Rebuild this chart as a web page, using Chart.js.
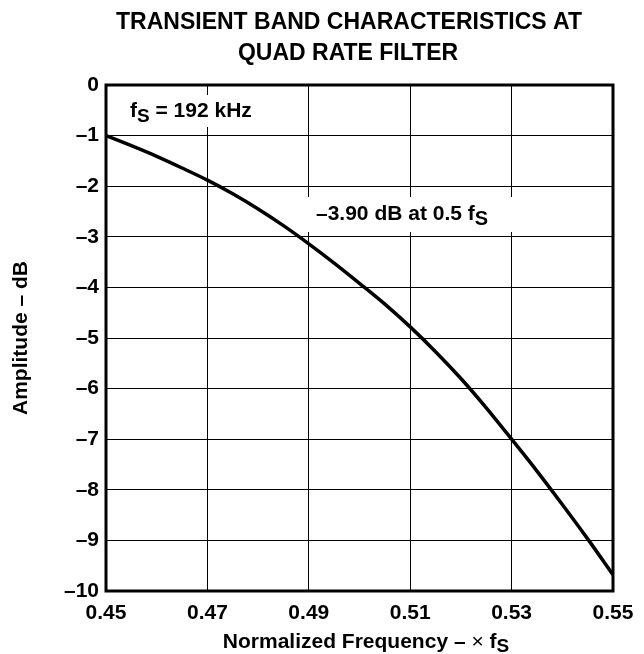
<!DOCTYPE html>
<html>
<head>
<meta charset="utf-8">
<script src="https://cdn.jsdelivr.net/npm/chart.js@4.4.1/dist/chart.umd.min.js"></script>
<style>
  html, body { margin: 0; padding: 0; background: #fff; }
</style>
</head>
<body>
<canvas id="filterChart" width="644" height="654"></canvas>
<script>
// normalized frequency (x fS) and amplitude in dB
const frequency = [0.45, 0.455, 0.46, 0.465, 0.47, 0.475, 0.48, 0.485, 0.49, 0.495,
                   0.50, 0.505, 0.51, 0.515, 0.52, 0.525, 0.53, 0.535, 0.54, 0.545, 0.55];
const amplitude = [-1.00, -1.20, -1.41, -1.64, -1.88, -2.15, -2.45, -2.78, -3.14, -3.52,
                   -3.92, -4.33, -4.78, -5.27, -5.80, -6.38, -7.00, -7.63, -8.29, -8.97, -9.68];
const xTickValues = [0.45, 0.47, 0.49, 0.51, 0.53, 0.55];

const FONT = '"Liberation Sans", Arial, Helvetica, sans-serif';

// text with a lowered "S" subscript
function drawSubText(ctx, parts, x, y, align) {
    let total = 0;
    parts.forEach(function(p) {
        ctx.font = p.font;
        total += ctx.measureText(p.text).width;
    });
    let cx = align === 'center' ? x - total / 2 : x;
    parts.forEach(function(p) {
        ctx.font = p.font;
        ctx.fillText(p.text, cx, y + (p.dy || 0));
        cx += ctx.measureText(p.text).width;
    });
}

const overlay = {
    id: 'overlay',
    beforeDatasetsDraw(chart) {
        // white boxes behind the two notes
        const ctx = chart.ctx;
        ctx.save();
        ctx.fillStyle = '#fff';
        ctx.fillRect(125, 95, 135, 32);
        ctx.fillRect(303, 197, 215, 35);
        ctx.restore();
    },
    afterDraw(chart) {
        const ctx = chart.ctx;
        const a = chart.chartArea;
        ctx.save();
        // frame
        ctx.strokeStyle = '#000';
        ctx.lineWidth = 3;
        ctx.strokeRect(a.left, a.top, a.right - a.left, a.bottom - a.top);

        ctx.fillStyle = '#000';
        ctx.textBaseline = 'alphabetic';

        // title
        ctx.textAlign = 'center';
        ctx.font = 'bold 23px ' + FONT;
        ctx.fillText('TRANSIENT BAND CHARACTERISTICS AT', 349, 29);
        ctx.fillText('QUAD RATE FILTER', 348, 60);

        ctx.textAlign = 'left';
        drawSubText(ctx, [
            { text: 'f', font: 'bold 21px ' + FONT },
            { text: 'S', font: 'bold 19px ' + FONT, dy: 5 },
            { text: ' = 192 kHz', font: 'bold 21px ' + FONT }
        ], 130, 117, 'left');
        drawSubText(ctx, [
            { text: '\u20133.90 dB at 0.5 f', font: 'bold 21px ' + FONT },
            { text: 'S', font: 'bold 20px ' + FONT, dy: 5 }
        ], 316, 220, 'left');

        // x axis title
        drawSubText(ctx, [
            { text: 'Normalized Frequency \u2013 ', font: 'bold 21px ' + FONT },
            { text: '\u00d7', font: '21px ' + FONT },
            { text: ' f', font: 'bold 21px ' + FONT },
            { text: 'S', font: 'bold 19px ' + FONT, dy: 4 }
        ], 366, 648, 'center');

        // y axis title
        ctx.translate(27, 338);
        ctx.rotate(-Math.PI / 2);
        ctx.textAlign = 'center';
        ctx.font = 'bold 21px ' + FONT;
        ctx.fillText('Amplitude \u2013 dB', 0, 0);
        ctx.restore();
    }
};

const ctx = document.getElementById('filterChart').getContext('2d');

const myChart = new Chart(ctx, {
    type: 'line',
    data: {
        datasets: [{
            data: frequency.map(function(f, i) { return { x: f, y: amplitude[i] }; }),
            borderColor: '#000',
            borderWidth: 3.5,
            pointRadius: 0,
            fill: false,
            cubicInterpolationMode: 'monotone'
        }]
    },
    options: {
        responsive: false,
        animation: false,
        devicePixelRatio: 1,
        layout: {
            padding: { top: 85, right: 31, left: 0, bottom: 0 }
        },
        plugins: {
            legend: { display: false },
            title: { display: false },
            tooltip: { enabled: false }
        },
        scales: {
            x: {
                type: 'linear',
                min: 0.45,
                max: 0.55,
                afterBuildTicks: function(scale) {
                    scale.ticks = xTickValues.map(function(v) { return { value: v }; });
                },
                afterFit: function(scale) { scale.height = 63; },
                border: { display: false },
                grid: { color: '#000', lineWidth: 1, drawTicks: false },
                ticks: {
                    color: '#000',
                    padding: 10,
                    maxRotation: 0,
                    font: { family: FONT, size: 21, weight: 'bold' },
                    callback: function(v) { return v.toFixed(2); }
                }
            },
            y: {
                min: -10,
                max: 0,
                afterFit: function(scale) { scale.width = 106; },
                border: { display: false },
                grid: { color: '#000', lineWidth: 1, drawTicks: false },
                ticks: {
                    stepSize: 1,
                    color: '#000',
                    padding: 7,
                    font: { family: FONT, size: 21, weight: 'bold' },
                    callback: function(v) { return v === 0 ? '0' : '\u2013' + Math.abs(v); }
                }
            }
        }
    },
    plugins: [overlay]
});
</script>
</body>
</html>
